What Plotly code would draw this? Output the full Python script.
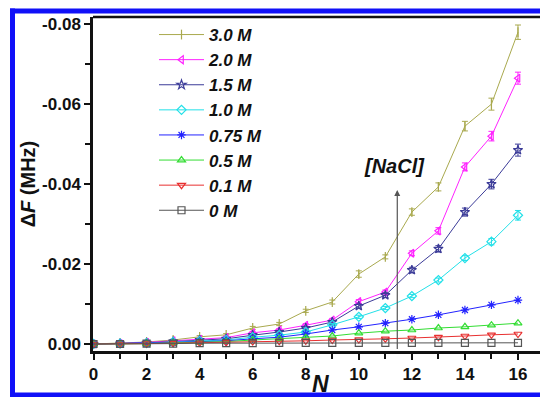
import plotly.graph_objects as go

N = list(range(17))

labels = ["3.0 M", "2.0 M", "1.5 M", "1.0 M", "0.75 M", "0.5 M", "0.1 M", "0 M"]

dF_30 = [0, -0.0002, -0.0005, -0.0010, -0.0018, -0.0023, -0.0040, -0.0050, -0.0083, -0.0105,
         -0.0175, -0.0218, -0.0330, -0.0393, -0.0545, -0.0600, -0.0780]
dF_20 = [0, -0.0001, -0.0004, -0.0008, -0.0012, -0.0016, -0.0028, -0.0035, -0.0047, -0.0060,
         -0.0106, -0.0130, -0.0227, -0.0283, -0.0443, -0.0520, -0.0665]
dF_15 = [0, -0.0001, -0.0003, -0.0006, -0.0010, -0.0013, -0.0022, -0.0030, -0.0040, -0.0055,
         -0.0095, -0.0122, -0.0185, -0.0238, -0.0330, -0.0400, -0.0485]
dF_10 = [0, -0.0001, -0.0002, -0.0005, -0.0008, -0.0010, -0.0017, -0.0022, -0.0030, -0.0048,
         -0.0068, -0.0090, -0.0120, -0.0160, -0.0215, -0.0256, -0.0322]
dF_075 = [0, -0.0001, -0.0002, -0.0004, -0.0006, -0.0008, -0.0013, -0.0017, -0.0025, -0.0035,
          -0.0043, -0.0052, -0.0062, -0.0073, -0.0085, -0.0098, -0.0110]
dF_05 = [0, 0, -0.0001, -0.0003, -0.0004, -0.0006, -0.0010, -0.0013, -0.0016, -0.0020,
         -0.0027, -0.0032, -0.0035, -0.0040, -0.0043, -0.0047, -0.0052]
dF_01 = [0, 0, -0.0001, -0.0002, -0.0003, -0.0004, -0.0006, -0.0007, -0.0008, -0.0010,
         -0.0011, -0.0013, -0.0015, -0.0017, -0.0020, -0.0023, -0.0025]
dF_0 = [0, 0, -0.0001, -0.0001, -0.0002, -0.0002, -0.0002, -0.0003, -0.0003, -0.0003,
        -0.0003, -0.0003, -0.0003, -0.0003, -0.0003, -0.0003, -0.0003]

err_30 = [0, 0, 0, 0.0002, 0.0003, 0.0003, 0.0004, 0.0004, 0.0004, 0.0005,
          0.0008, 0.0005, 0.0008, 0.0010, 0.0012, 0.0015, 0.0018]
err_20 = [0, 0, 0, 0.0002, 0.0002, 0.0003, 0.0003, 0.0003, 0.0004, 0.0004,
          0.0005, 0.0005, 0.0006, 0.0008, 0.0010, 0.0012, 0.0015]
err_15 = [0, 0, 0, 0.0001, 0.0002, 0.0002, 0.0003, 0.0003, 0.0003, 0.0004,
          0.0005, 0.0006, 0.0007, 0.0008, 0.0010, 0.0012, 0.0015]
err_10 = [0, 0, 0, 0, 0.0001, 0.0002, 0.0002, 0.0002, 0.0003, 0.0003,
          0.0004, 0.0004, 0.0004, 0.0005, 0.0006, 0.0008, 0.0012]

series = [dF_30, dF_20, dF_15, dF_10, dF_075, dF_05, dF_01, dF_0]
errors = [err_30, err_20, err_15, err_10, None, None, None, None]
colors = ["#A9A94E", "#FF22FF", "#3B3B98", "#22E0E8", "#2222FF", "#33DD33", "#E83030", "#555555"]
symbols = ["line-ns-open", "triangle-left-open", "star-open", "diamond-open",
           "asterisk-open", "triangle-up-open", "triangle-down-open", "square-open"]

y_ticks = [0, -0.02, -0.04, -0.06, -0.08]
y_ticktext = ["0.00", "-0.02", "-0.04", "-0.06", "-0.08"]
x_ticks = [0, 2, 4, 6, 8, 10, 12, 14, 16]

FONT = "Arial, Liberation Sans, sans-serif"
INK = "#111111"
BLUE = "#1010F8"

fig = go.Figure()
for lab, ys, er, c, s in zip(labels, series, errors, colors, symbols):
    fig.add_trace(go.Scatter(
        x=N, y=ys, name=lab, mode="lines+markers",
        line=dict(color=c, width=1),
        marker=dict(symbol=s, size=7, color=c, line=dict(color=c, width=1.2)),
        error_y=(dict(type="data", array=er, visible=True, color=c, thickness=1, width=3)
                 if er is not None else None),
    ))

# plot area geometry in pixels
W, H = 540, 397
L, R, T, B = 93, 0, 17, 46
pw, ph = W - L - R, H - T - B

def px_x(p):
    return (p - L) / pw

def px_y(p):
    return (H - B - p) / ph

border = dict(color=BLUE, width=5)

fig.update_layout(
    width=W, height=H,
    margin=dict(l=L, r=R, t=T, b=B, pad=0),
    paper_bgcolor="white", plot_bgcolor="white",
    font=dict(family=FONT, color=INK),
    showlegend=True,
    legend=dict(
        x=px_x(154), y=px_y(17), xanchor="left", yanchor="top",
        bgcolor="rgba(0,0,0,0)", borderwidth=0,
        font=dict(family=FONT, size=17, color=INK, style="italic", weight="bold"),
        itemwidth=45, tracegroupgap=0,
    ),
    xaxis=dict(
        range=[-0.02, 16.83], tickvals=x_ticks,
        ticks="outside", ticklen=6, tickwidth=2, tickcolor=INK,
        showline=True, linewidth=2.5, linecolor=INK, mirror=False,
        showgrid=False, zeroline=False,
        tickfont=dict(family=FONT, size=17, weight="bold", color=INK),
        minor=dict(dtick=1, ticks="outside", ticklen=5, tickwidth=2, tickcolor=INK, showgrid=False),
    ),
    yaxis=dict(
        range=[0.00175, -0.0818], tickvals=y_ticks, ticktext=y_ticktext,
        ticks="outside", ticklen=6, tickwidth=2, tickcolor=INK,
        showline=True, linewidth=2.5, linecolor=INK,
        showgrid=False, zeroline=False,
        tickfont=dict(family=FONT, size=17, weight="bold", color=INK),
        minor=dict(dtick=0.01, tick0=0, ticks="outside", ticklen=5, tickwidth=2, tickcolor=INK, showgrid=False),
        title=dict(text="\u0394<i>F</i> (MHz)", font=dict(family=FONT, size=20, weight="bold", color=INK),
                   standoff=2),
    ),
    shapes=[
        # top frame line
        dict(type="line", xref="paper", yref="paper", x0=0, x1=1.05, y0=1, y1=1,
             line=dict(color=INK, width=2.5)),
        # blue border (left, top, bottom)
        dict(type="line", xref="paper", yref="paper", x0=px_x(12.5), x1=px_x(12.5),
             y0=px_y(397), y1=px_y(8.5), line=border),
        dict(type="line", xref="paper", yref="paper", x0=px_x(10), x1=px_x(545),
             y0=px_y(11), y1=px_y(11), line=border),
        dict(type="line", xref="paper", yref="paper", x0=px_x(10), x1=px_x(545),
             y0=px_y(395), y1=px_y(395), line=border),
    ],
    annotations=[
        dict(x=11.45, y=-0.0385, ax=11.45, ay=0.0016, xref="x", yref="y", axref="x", ayref="y",
             showarrow=True, arrowhead=2, arrowsize=1, arrowwidth=1.2, arrowcolor="#555555", text=""),
        dict(x=11.35, y=-0.0445, xref="x", yref="y", showarrow=False,
             text="[NaCl]", font=dict(family=FONT, size=20, style="italic", weight="bold", color=INK)),
        dict(x=px_x(320), y=px_y(384), xref="paper", yref="paper", showarrow=False,
             xanchor="center", yanchor="middle",
             text="N", font=dict(family=FONT, size=23, style="italic", weight="bold", color=INK)),
    ],
)

fig.write_html("out.html")
